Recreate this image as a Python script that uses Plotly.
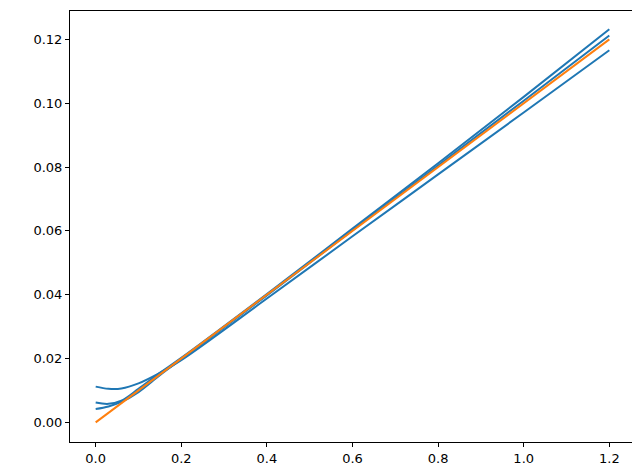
import plotly.graph_objects as go

x_ref = [0.0, 1.2]
y_ref = [0.0, 0.12]

x_a = [0.0, 0.03, 0.06, 0.1, 0.15, 0.2, 0.4, 0.6, 0.8, 1.0, 1.2]
y_a = [0.0112, 0.0105, 0.0106, 0.0122, 0.0155, 0.0195, 0.0388, 0.0583, 0.0777, 0.0971, 0.1166]

x_b = [0.0, 0.03, 0.06, 0.1, 0.15, 0.2, 0.4, 0.6, 0.8, 1.0, 1.2]
y_b = [0.0062, 0.0058, 0.0068, 0.0105, 0.0155, 0.0202, 0.0402, 0.0607, 0.0812, 0.1020, 0.1232]

x_c = [0.0, 0.03, 0.06, 0.1, 0.15, 0.2, 0.4, 0.6, 0.8, 1.0, 1.2]
y_c = [0.0042, 0.0050, 0.0064, 0.0095, 0.0148, 0.0198, 0.0398, 0.0602, 0.0805, 0.1008, 0.1212]

blue = "#1f77b4"
orange = "#ff7f0e"

fig = go.Figure()
for xs, ys in [(x_a, y_a), (x_b, y_b), (x_c, y_c)]:
    fig.add_trace(go.Scatter(x=xs, y=ys, mode="lines", line=dict(color=blue, width=2, shape="spline")))
fig.add_trace(go.Scatter(x=x_ref, y=y_ref, mode="lines", line=dict(color=orange, width=2)))

axis_style = dict(
    showgrid=False, zeroline=False, showline=True, linecolor="black", linewidth=1,
    mirror=True, ticks="outside", ticklen=4, tickcolor="black",
)
fig.update_layout(
    width=640, height=460,
    margin=dict(l=62, r=13, t=2, b=22),
    plot_bgcolor="white", paper_bgcolor="white",
    showlegend=False,
    font=dict(family="DejaVu Sans", size=13, color="black"),
    xaxis=dict(range=[-0.06, 1.26], tickvals=[0.0, 0.2, 0.4, 0.6, 0.8, 1.0, 1.2], tickformat=".1f", **axis_style),
    yaxis=dict(range=[-0.00615, 0.1289], tickvals=[0.0, 0.02, 0.04, 0.06, 0.08, 0.1, 0.12], tickformat=".2f", **axis_style),
)
fig.write_html("out.html")
